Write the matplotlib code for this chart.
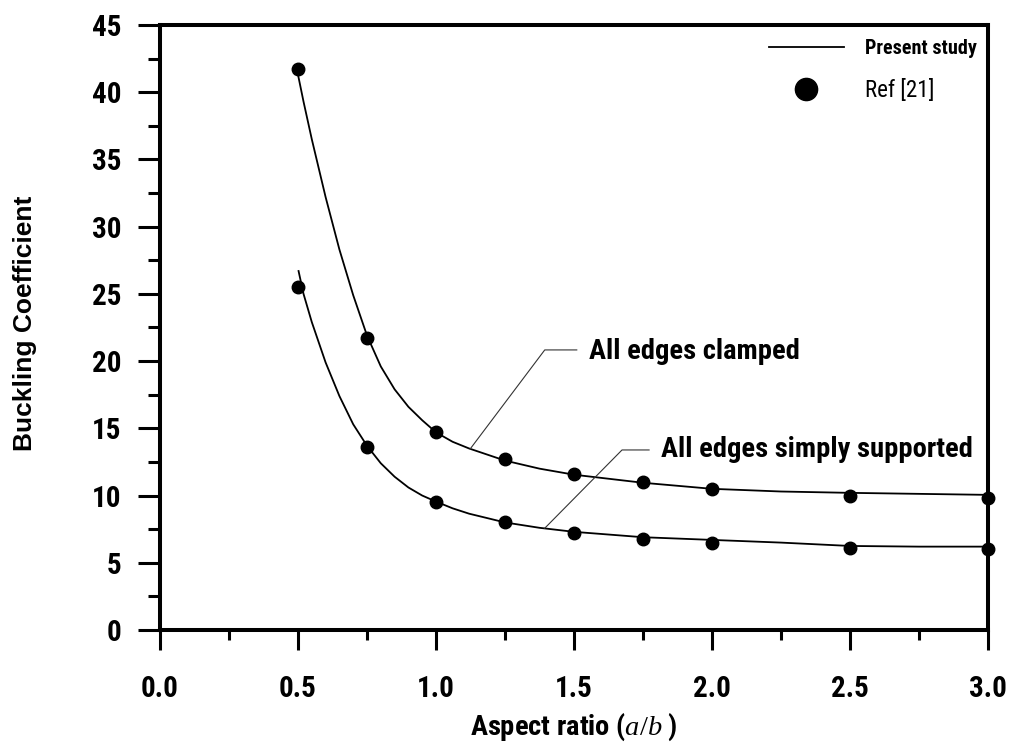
import matplotlib
matplotlib.use("Agg")
import os
import matplotlib.pyplot as plt
from matplotlib import font_manager
from matplotlib.font_manager import FontProperties
from matplotlib.lines import Line2D

# --- data ---
ASPECT_REF = [0.5, 0.75, 1.0, 1.25, 1.5, 1.75, 2.0, 2.5, 3.0]
CLAMPED_REF = [41.7, 21.7, 14.7, 12.7, 11.6, 11.0, 10.5, 10.0, 9.8]
SS_REF = [25.5, 13.6, 9.5, 8.0, 7.2, 6.8, 6.5, 6.1, 6.0]

# present study curves
CLAMPED_X = [0.5, 0.52, 0.55, 0.6, 0.65, 0.7, 0.75, 0.8, 0.85, 0.9, 0.95, 1.0,
             1.06, 1.12, 1.25, 1.375, 1.5, 1.75, 2.0, 2.25, 2.5, 3.0]
CLAMPED_Y = [41.3, 39.3, 36.5, 32.2, 28.3, 24.9, 21.9, 19.6, 17.9, 16.6, 15.6, 14.7,
             14.0, 13.5, 12.6, 12.0, 11.55, 10.95, 10.5, 10.3, 10.2, 10.05]
SS_X = [0.502, 0.52, 0.55, 0.6, 0.65, 0.7, 0.75, 0.8, 0.85, 0.9, 0.95, 1.0,
        1.06, 1.12, 1.25, 1.375, 1.5, 1.75, 2.0, 2.25, 2.5, 2.75, 3.0]
SS_Y = [26.7, 25.0, 22.9, 19.9, 17.4, 15.3, 13.7, 12.4, 11.4, 10.6, 10.0, 9.55,
        9.05, 8.65, 8.0, 7.6, 7.3, 6.9, 6.7, 6.5, 6.25, 6.2, 6.2]

X_TICKS = [0.0, 0.5, 1.0, 1.5, 2.0, 2.5, 3.0]
Y_TICKS = [0, 5, 10, 15, 20, 25, 30, 35, 40, 45]


def find_font(candidates):
    # look for a condensed face by file name, first hit wins
    files = [f.fname for f in font_manager.fontManager.ttflist]
    for cand in candidates:
        for fn in files:
            if os.path.basename(fn).lower() == cand.lower():
                return fn
    return None


bold_file = find_font(["LiberationSansNarrow-Bold.ttf", "ArialNarrow-Bold.ttf",
                       "RobotoCondensed-Bold.ttf", "DejaVuSansCondensed-Bold.ttf",
                       "OpenSans_Condensed-Bold.ttf"])
reg_file = find_font(["LiberationSansNarrow-Regular.ttf", "ArialNarrow.ttf",
                      "RobotoCondensed-Regular.ttf", "DejaVuSansCondensed.ttf",
                      "OpenSans_Condensed-Regular.ttf"])
print("condensed:", bold_file, reg_file)

# shrink factor when only a full-width face is around
SHRINK = 1.0 if bold_file else 0.84


def fp_bold(size):
    if bold_file:
        return FontProperties(fname=bold_file, size=size)
    return FontProperties(family="Liberation Sans", weight="bold", size=size * SHRINK)


def fp_reg(size):
    if reg_file:
        return FontProperties(fname=reg_file, size=size)
    return FontProperties(family="Liberation Sans", size=size * SHRINK)


plt.rcParams["font.family"] = ["Liberation Sans", "DejaVu Sans"]
plt.rcParams["mathtext.fontset"] = "custom"
plt.rcParams["mathtext.it"] = "Liberation Serif:italic"
plt.rcParams["mathtext.rm"] = "Liberation Serif"

fig = plt.figure(figsize=(10.12, 7.43), dpi=100)
ax = fig.add_axes([0.1581, 0.1521, 0.8182, 0.8143])

ax.plot(CLAMPED_X, CLAMPED_Y, color="black", lw=1.3, zorder=2)
ax.plot(SS_X, SS_Y, color="black", lw=1.3, zorder=2)
ax.plot(ASPECT_REF, CLAMPED_REF, "o", color="black", ms=9, zorder=3, clip_on=False)
ax.plot(ASPECT_REF, SS_REF, "o", color="black", ms=9, zorder=3, clip_on=False)

# leader lines + curve labels
ax.plot([1.124, 1.394, 1.51], [13.47, 20.83, 20.83], color="#333333", lw=0.8)
ax.text(1.554, 20.7, "All edges clamped", fontproperties=fp_bold(20.5),
        ha="left", va="center")
ax.plot([1.394, 1.674, 1.772], [7.57, 13.39, 13.39], color="#333333", lw=0.8)
ax.text(1.816, 13.4, "All edges simply supported", fontproperties=fp_bold(20.5),
        ha="left", va="center")

ax.set_xlim(0, 3.0)
ax.set_ylim(0, 45)
ax.set_xticks(X_TICKS)
ax.set_xticklabels([f"{v:.1f}" for v in X_TICKS])
ax.set_xticks([0.25, 0.75, 1.25, 1.75, 2.25, 2.75], minor=True)
ax.set_yticks(Y_TICKS)
ax.set_yticks([2.5 + 5 * i for i in range(9)], minor=True)

for lbl in ax.get_xticklabels() + ax.get_yticklabels():
    lbl.set_fontproperties(fp_bold(21))

ax.tick_params(axis="x", which="major", direction="out", length=14.4, width=2.2, pad=18)
ax.tick_params(axis="x", which="minor", direction="out", length=7.2, width=2.2)
ax.tick_params(axis="y", which="major", direction="out", length=15.8, width=2.2, pad=12)
ax.tick_params(axis="y", which="minor", direction="out", length=8.6, width=2.2)
for sp in ax.spines.values():
    sp.set_linewidth(2.9)

ax.set_xlabel("Aspect ratio ($\\mathit{a/b}$ )", fontproperties=fp_bold(20.5), labelpad=6)
ax.set_ylabel("Buckling Coefficient", fontsize=19, fontweight="bold",
              family=["Liberation Sans", "DejaVu Sans"])
ax.yaxis.set_label_coords(-0.149, 0.507)

handles = [Line2D([], [], color="black", lw=1.3),
           Line2D([], [], color="black", marker="o", ls="none", ms=16)]
leg = ax.legend(handles, ["Present study", "Ref [21]"], loc="upper right",
                bbox_to_anchor=(0.986, 0.977), frameon=False, prop=fp_reg(15),
                handlelength=3.6, handletextpad=1.0, labelspacing=1.0,
                borderpad=0, borderaxespad=0)
texts = leg.get_texts()
texts[0].set_fontproperties(fp_bold(14.5))
texts[1].set_fontproperties(fp_reg(16.5))

fig.savefig("out.png", dpi=100)
